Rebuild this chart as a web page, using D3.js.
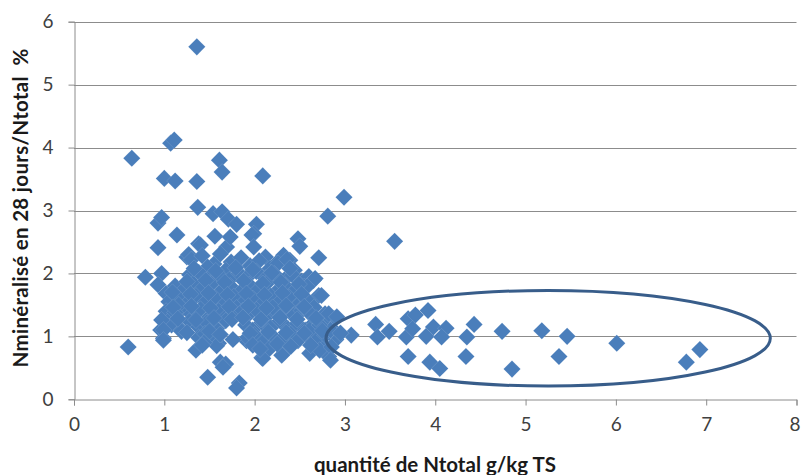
<!DOCTYPE html>
<html>
<head>
<meta charset="utf-8">
<script src="https://cdn.jsdelivr.net/npm/d3@7"></script>
<style>
  body { margin: 0; background: #fff; }
  .axis text { font-family: Lato, "Open Sans", sans-serif; font-size: 19px; fill: #404040; }
  .title { font-family: Lato, "Open Sans", sans-serif; font-size: 20.5px; font-weight: bold; fill: #1a1a1a; }
</style>
</head>
<body>
<div class="chart-area"></div>
<script>
// N total (g/kg TS) and N mineralised after 28 days (% of N total)
const nTotal = [
  1.36, 0.64, 1.07, 1.11, 1.00, 1.12, 1.36, 1.61, 1.64, 2.09, 2.99, 2.81, 1.37, 0.93, 0.97,
  1.14, 1.54, 1.64, 1.71, 1.80, 2.02, 1.99, 1.97, 3.55, 2.48, 2.50, 2.71, 0.93, 0.79, 0.97,
  0.93, 0.60, 0.96, 0.99, 1.48, 1.62, 1.68, 1.83, 1.80, 1.35, 1.60, 2.08, 2.33, 1.91, 2.77,
  2.82, 1.56, 1.69, 1.73, 1.99, 2.12, 2.32, 2.24, 2.39, 1.25, 1.38, 1.27, 1.40,
  // ellipse group
  3.07, 3.34, 3.36, 3.49, 3.70, 3.78, 3.92, 3.68, 3.75, 3.90, 3.98, 4.12, 4.07, 3.70, 3.94,
  4.05, 4.35, 4.34, 4.43, 4.74, 4.85, 5.18, 5.46, 5.37, 6.01, 6.78, 6.93,
  // main cluster
  1.30, 1.42, 1.55, 1.62, 1.74, 1.85, 1.95, 2.05, 2.17, 2.26, 2.36, 2.44, 1.68, 1.48,
  1.28, 1.38, 1.50, 1.60, 1.72, 1.83, 1.92, 2.02, 2.12, 2.22, 2.33, 2.42, 2.52, 2.60, 2.65,
  1.02, 1.12, 1.20, 1.32, 1.42, 1.52, 1.63, 1.73, 1.84, 1.94, 2.04, 2.14, 2.24, 2.34, 2.45, 2.55, 2.71,
  1.05, 1.15, 1.25, 1.35, 1.46, 1.56, 1.66, 1.77, 1.88, 1.98, 2.08, 2.18, 2.28, 2.38, 2.48, 2.58, 2.66,
  1.02, 1.10, 1.20, 1.30, 1.40, 1.50, 1.60, 1.70, 1.80, 1.94, 2.02, 2.12, 2.23, 2.33, 2.43, 2.52, 2.62, 2.78, 2.88, 2.82,
  1.08, 1.19, 1.28, 1.38, 1.47, 1.58, 1.68, 1.90, 1.98, 2.08, 2.18, 2.28, 2.37, 2.47, 2.56, 2.66, 2.72, 2.86, 2.95,
  1.38, 1.45, 1.55, 1.92, 2.00, 2.10, 2.20, 2.30, 2.40, 2.48, 2.58, 2.68, 2.78, 2.90, 2.84,
  2.16, 2.61, 2.72, 2.85, 2.84, 2.09, 2.30, 2.61, 1.65, 0.97, 0.99, 0.99, 1.19, 1.16, 1.12,
  2.74, 2.82, 2.91, 2.84, 2.95, 2.54, 2.65, 2.67, 2.58, 2.72, 1.87, 2.20, 1.76, 1.58, 1.44,
  1.33, 1.57, 1.79, 1.98, 2.19, 2.39,
  1.25, 1.46, 1.67, 1.88, 2.09, 2.29, 2.49,
  1.09, 1.29, 1.49, 1.70, 1.91, 2.11, 2.31, 2.52,
  1.10, 1.30, 1.51, 1.72, 1.93, 2.13, 2.35, 2.55,
  1.15, 1.35, 1.55, 1.75, 1.87, 2.07, 2.28, 2.47, 2.68,
  1.25, 1.50, 1.62, 1.95, 2.15, 2.35, 2.55, 2.75,
  1.42, 1.98, 2.25, 2.40, 2.62, 2.06
];
const nMin = [
  5.60, 3.83, 4.07, 4.12, 3.51, 3.47, 3.46, 3.80, 3.61, 3.55, 3.21, 2.91, 3.05, 2.80, 2.89,
  2.61, 2.95, 2.98, 2.86, 2.78, 2.78, 2.63, 2.61, 2.51, 2.55, 2.43, 2.25, 2.41, 1.94, 2.00,
  1.82, 0.83, 1.10, 0.97, 0.35, 0.59, 0.56, 0.26, 0.18, 0.78, 0.89, 0.66, 0.75, 0.93, 0.86,
  0.68, 2.59, 2.42, 2.58, 2.42, 2.26, 2.29, 2.16, 2.21, 2.26, 2.47, 2.30, 2.45,
  1.02, 1.19, 0.99, 1.08, 1.28, 1.34, 1.41, 0.99, 1.12, 1.00, 1.15, 1.13, 0.99, 0.68, 0.59,
  0.49, 0.99, 0.68, 1.19, 1.08, 0.48, 1.09, 1.00, 0.68, 0.89, 0.59, 0.79,
  2.22, 2.28, 2.15, 2.31, 2.18, 2.25, 2.12, 2.20, 2.08, 2.16, 2.22, 2.05, 2.05, 2.10,
  1.98, 2.02, 1.92, 1.98, 1.90, 2.00, 1.94, 2.03, 1.92, 1.99, 1.90, 1.97, 1.88, 1.95, 1.89,
  1.68, 1.80, 1.72, 1.84, 1.76, 1.83, 1.72, 1.80, 1.70, 1.82, 1.74, 1.85, 1.71, 1.80, 1.73, 1.79, 1.65,
  1.55, 1.62, 1.52, 1.64, 1.55, 1.61, 1.50, 1.63, 1.54, 1.60, 1.51, 1.64, 1.55, 1.62, 1.50, 1.58, 1.46,
  1.40, 1.32, 1.44, 1.35, 1.43, 1.31, 1.40, 1.33, 1.45, 1.36, 1.42, 1.30, 1.38, 1.45, 1.33, 1.41, 1.35, 1.36, 1.28, 1.22,
  1.18, 1.10, 1.24, 1.15, 1.22, 1.12, 1.25, 1.18, 1.10, 1.22, 1.14, 1.25, 1.12, 1.20, 1.10, 1.22, 1.18, 1.12, 1.05,
  0.98, 1.04, 0.92, 0.98, 1.02, 0.92, 1.00, 0.95, 1.04, 0.93, 1.02, 0.96, 1.02, 0.95, 1.10,
  0.80, 0.73, 0.78, 0.83, 0.62, 0.65, 0.70, 1.10, 0.51, 1.26, 1.10, 0.94, 1.08, 1.50, 1.38,
  1.65, 1.36, 1.31, 1.10, 1.05, 1.47, 1.89, 1.92, 1.79, 1.18, 1.41, 1.46, 0.95, 0.85, 0.90,
  2.08, 2.04, 2.09, 2.06, 2.01, 2.08,
  1.87, 1.89, 1.86, 1.88, 1.84, 1.86, 1.83,
  1.70, 1.67, 1.69, 1.66, 1.68, 1.66, 1.69, 1.67,
  1.46, 1.48, 1.45, 1.47, 1.48, 1.45, 1.49, 1.47,
  1.28, 1.26, 1.29, 1.27, 1.30, 1.27, 1.30, 1.27, 1.29,
  1.06, 1.08, 1.03, 1.05, 1.07, 1.06, 1.05, 1.09,
  0.86, 0.86, 0.88, 0.84, 0.86, 0.80
];
const xTicks = [0, 1, 2, 3, 4, 5, 6, 7, 8];
const yTicks = [0, 1, 2, 3, 4, 5, 6];
// highlighted group: centre x, centre y, half-width, half-height (data units)
const ellipse = [5.25, 0.97, 2.46, 0.76];

const data = nTotal.map((x, i) => ({x: x, y: nMin[i]}));

const W = 801, H = 475;
const margin = {top: 21.7, right: 4.5, bottom: 75.7, left: 74};

const svg = d3.select('.chart-area').append('svg')
  .attr('width', W)
  .attr('height', H);

const xScale = d3.scaleLinear().domain([0, 8]).range([margin.left, W - margin.right]);
const yScale = d3.scaleLinear().domain([0, 6]).range([H - margin.bottom, margin.top]);

// horizontal gridlines
svg.append('g')
  .selectAll('line')
  .data(yTicks.filter(d => d > 0))
  .enter().append('line')
  .attr('x1', xScale(0)).attr('x2', xScale(8))
  .attr('y1', d => Math.round(yScale(d)) + 0.5).attr('y2', d => Math.round(yScale(d)) + 0.5)
  .attr('stroke', '#8c8c8c').attr('stroke-width', 1);

let xAxis = d3.axisBottom(xScale).tickValues(xTicks).tickFormat(d3.format('d'))
  .tickSizeOuter(0).tickSize(6).tickPadding(12);
let yAxis = d3.axisLeft(yScale).tickValues(yTicks).tickFormat(d3.format('d'))
  .tickSizeOuter(0).tickSize(6).tickPadding(15);

let xaxis = svg.append('g')
  .attr('class', 'axis')
  .attr('transform', `translate(0, ${Math.round(yScale(0)) + 0.5})`)
  .call(xAxis);
let yaxis = svg.append('g')
  .attr('class', 'axis')
  .attr('transform', `translate(${Math.round(xScale(0)) + 0.5}, 0)`)
  .call(yAxis);

svg.selectAll('.axis .domain, .axis .tick line').attr('stroke', '#8c8c8c');
xaxis.selectAll('text').attr('dy', '0.71em');
// last label sits against the right edge, as in the original
xaxis.selectAll('.tick').filter(d => d === 8).select('text').attr('dx', -2);

// points
const diamond = d3.symbol(d3.symbolSquare, 146);
svg.append('g')
  .selectAll('path')
  .data(data)
  .enter().append('path')
  .attr('d', diamond)
  .attr('transform', d => `translate(${xScale(d.x)},${yScale(d.y)}) rotate(45)`)
  .attr('fill', '#4a7ebb')
  .attr('stroke', '#ffffff')
  .attr('stroke-opacity', 0.25)
  .attr('stroke-width', 0.4);

// ellipse annotation
svg.append('ellipse')
  .attr('cx', xScale(ellipse[0]))
  .attr('cy', yScale(ellipse[1]))
  .attr('rx', xScale(ellipse[0] + ellipse[2]) - xScale(ellipse[0]))
  .attr('ry', yScale(ellipse[1] - ellipse[3]) - yScale(ellipse[1]))
  .attr('fill', 'none')
  .attr('stroke', '#385d8a')
  .attr('stroke-width', 3);

// axis titles
svg.append('text')
  .attr('class', 'title')
  .attr('x', 435)
  .attr('y', 472)
  .attr('text-anchor', 'middle')
  .text('quantité de Ntotal g/kg TS');

svg.append('text')
  .attr('class', 'title')
  .attr('transform', 'translate(28, 208) rotate(-90)')
  .attr('text-anchor', 'middle')
  .attr('xml:space', 'preserve')
  .style('white-space', 'pre')
  .style('letter-spacing', '0.3px')
  .text('Nminéralisé en 28 jours/Ntotal  %');
</script>
</body>
</html>
